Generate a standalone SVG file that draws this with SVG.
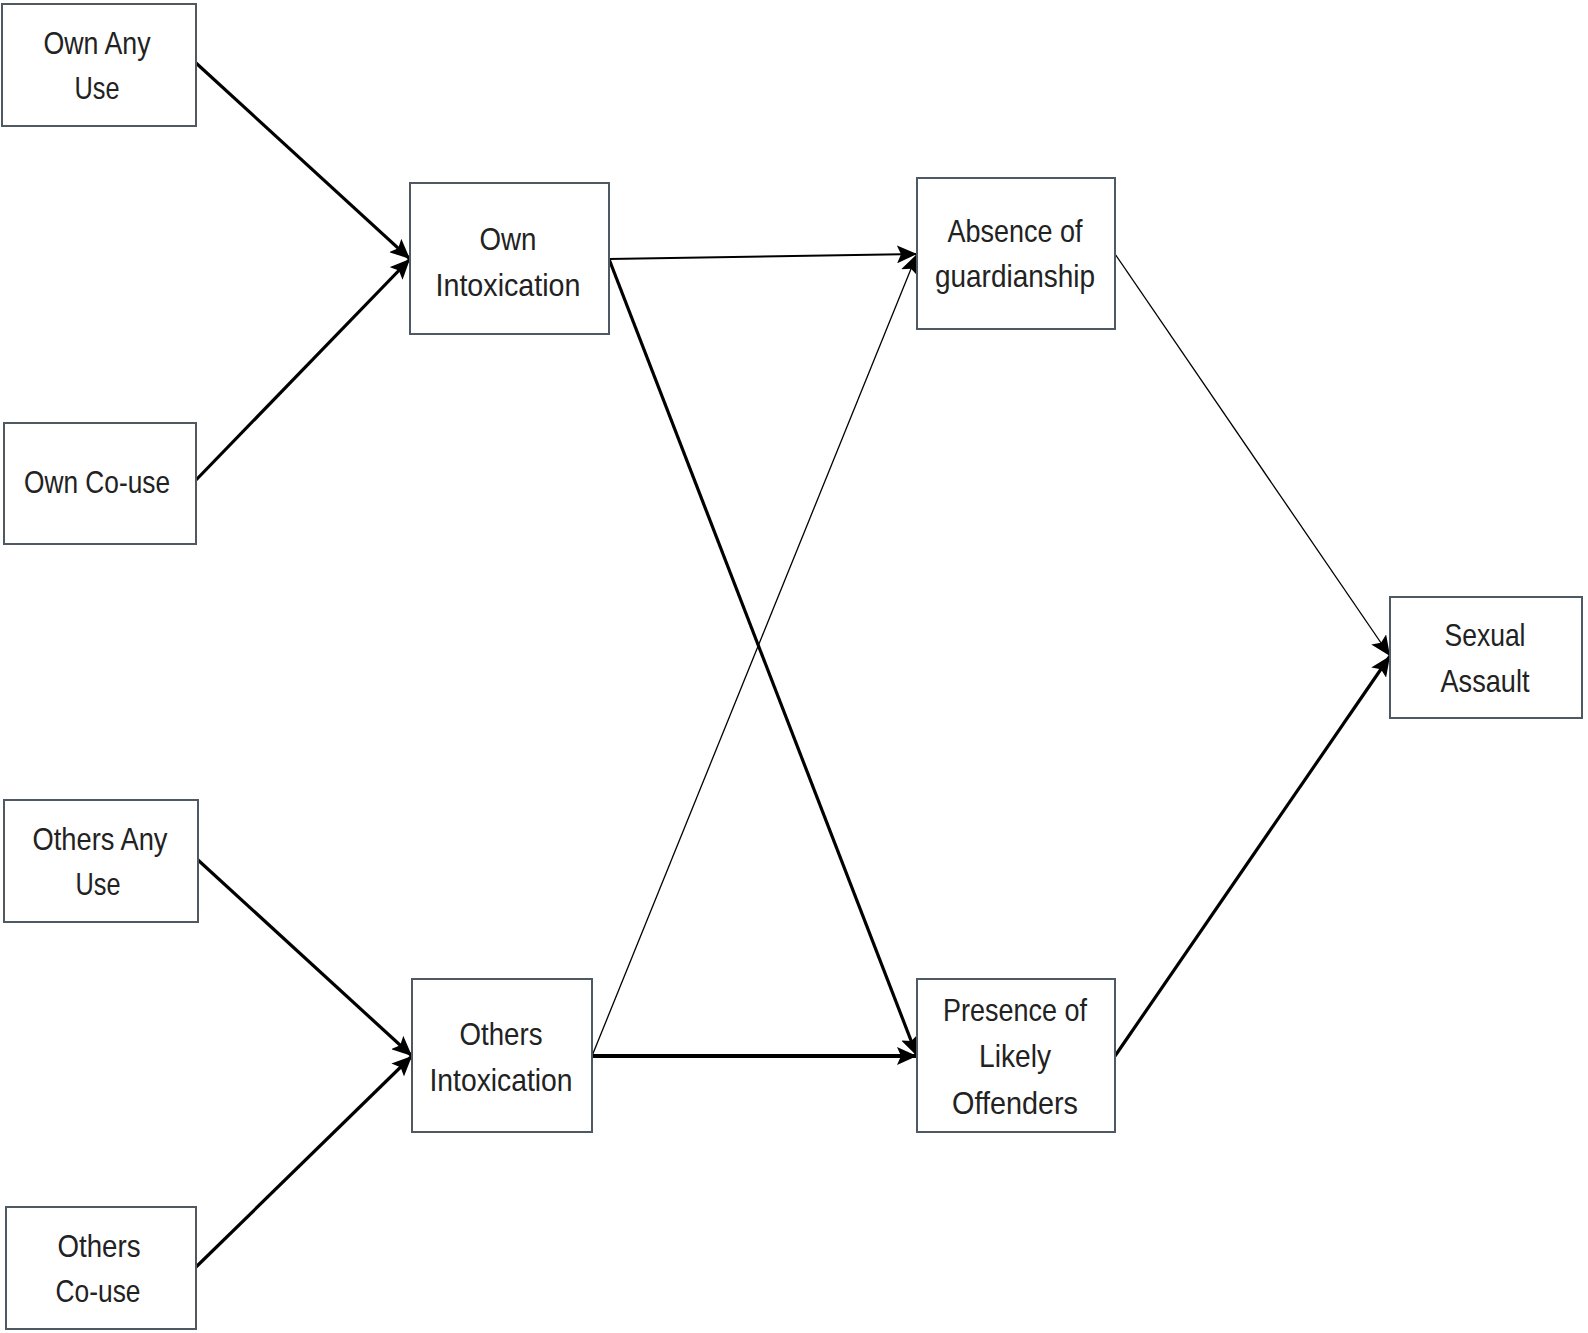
<svg xmlns="http://www.w3.org/2000/svg" width="1588" height="1333" viewBox="0 0 1588 1333">
<style>
.box{fill:#fff;stroke:#4f5963;stroke-width:2}
.t{font-family:"Liberation Sans",Arial,sans-serif;font-size:32px;fill:#222;text-anchor:middle;dominant-baseline:central}
.c{fill:none;stroke:#000}
.w1{stroke-width:1.3}
.w2{stroke-width:2}
.w3{stroke-width:3.2}
.w4{stroke-width:4}
</style>
<defs>
<marker id="ah" markerUnits="userSpaceOnUse" markerWidth="22" markerHeight="18" refX="20" refY="9" orient="auto" viewBox="0 0 22 18">
<path d="M0,0 L20,9 L0,18 L4,9 Z" fill="#000"/>
</marker>
</defs>
<rect width="1588" height="1333" fill="#fff"/>
<g id="connectors">
<line class="c w3" x1="196" y1="63" x2="410" y2="259" marker-end="url(#ah)"/>
<line class="c w3" x1="196" y1="480" x2="410" y2="259" marker-end="url(#ah)"/>
<line class="c w2" x1="609" y1="259" x2="917" y2="254" marker-end="url(#ah)"/>
<line class="c w3" x1="609" y1="259" x2="917" y2="1056" marker-end="url(#ah)"/>
<line class="c w1" x1="592" y1="1056" x2="917" y2="254" marker-end="url(#ah)"/>
<line class="c w4" x1="592" y1="1056" x2="917" y2="1056" marker-end="url(#ah)"/>
<line class="c w3" x1="198" y1="860" x2="412" y2="1056" marker-end="url(#ah)"/>
<line class="c w3" x1="196" y1="1267" x2="412" y2="1056" marker-end="url(#ah)"/>
<line class="c w1" x1="1115" y1="254" x2="1390" y2="656" marker-end="url(#ah)"/>
<line class="c w3" x1="1115" y1="1056" x2="1390" y2="656" marker-end="url(#ah)"/>
</g>
<g id="own-any-use"><rect class="box" x="2" y="4" width="194" height="122"/><text class="t" x="97" y="43" textLength="107" lengthAdjust="spacingAndGlyphs">Own Any</text><text class="t" x="97" y="88" textLength="45" lengthAdjust="spacingAndGlyphs">Use</text></g>
<g id="own-co-use"><rect class="box" x="4" y="423" width="192" height="121"/><text class="t" x="97" y="482" textLength="146" lengthAdjust="spacingAndGlyphs">Own Co-use</text></g>
<g id="others-any-use"><rect class="box" x="4" y="800" width="194" height="122"/><text class="t" x="100" y="839" textLength="135" lengthAdjust="spacingAndGlyphs">Others Any</text><text class="t" x="98" y="884" textLength="45" lengthAdjust="spacingAndGlyphs">Use</text></g>
<g id="others-co-use"><rect class="box" x="6" y="1207" width="190" height="122"/><text class="t" x="99" y="1246" textLength="83" lengthAdjust="spacingAndGlyphs">Others</text><text class="t" x="98" y="1291" textLength="85" lengthAdjust="spacingAndGlyphs">Co-use</text></g>
<g id="own-intoxication"><rect class="box" x="410" y="183" width="199" height="151"/><text class="t" x="508" y="239" textLength="57" lengthAdjust="spacingAndGlyphs">Own</text><text class="t" x="508" y="285" textLength="145" lengthAdjust="spacingAndGlyphs">Intoxication</text></g>
<g id="others-intoxication"><rect class="box" x="412" y="979" width="180" height="153"/><text class="t" x="501" y="1034" textLength="83" lengthAdjust="spacingAndGlyphs">Others</text><text class="t" x="501" y="1080" textLength="143" lengthAdjust="spacingAndGlyphs">Intoxication</text></g>
<g id="absence-of-guardianship"><rect class="box" x="917" y="178" width="198" height="151"/><text class="t" x="1015" y="231" textLength="135" lengthAdjust="spacingAndGlyphs">Absence of</text><text class="t" x="1015" y="276" textLength="160" lengthAdjust="spacingAndGlyphs">guardianship</text></g>
<g id="presence-of-likely-offenders"><rect class="box" x="917" y="979" width="198" height="153"/><text class="t" x="1015" y="1010" textLength="144" lengthAdjust="spacingAndGlyphs">Presence of</text><text class="t" x="1015" y="1056" textLength="72" lengthAdjust="spacingAndGlyphs">Likely</text><text class="t" x="1015" y="1103" textLength="126" lengthAdjust="spacingAndGlyphs">Offenders</text></g>
<g id="sexual-assault"><rect class="box" x="1390" y="597" width="192" height="121"/><text class="t" x="1485" y="635" textLength="81" lengthAdjust="spacingAndGlyphs">Sexual</text><text class="t" x="1485" y="681" textLength="89" lengthAdjust="spacingAndGlyphs">Assault</text></g>
</svg>
